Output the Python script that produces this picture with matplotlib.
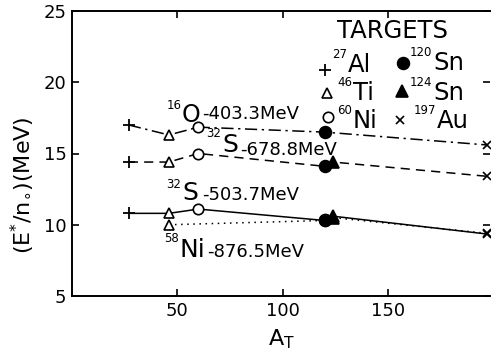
import matplotlib.pyplot as plt
from matplotlib.transforms import IdentityTransform

plt.rcParams['mathtext.default'] = 'regular'
plt.rcParams['font.family'] = 'DejaVu Sans'

# target mass numbers
A_al, A_ti, A_ni, A_sn120, A_sn124, A_au = 27, 46, 60, 120, 124, 197

# E*/n0 (MeV) for each projectile/energy, per target
o403 = {'al': 17.0, 'ti': 16.3, 'ni': 16.85, 'sn120': 16.5, 'au': 15.6}
s678 = {'al': 14.4, 'ti': 14.4, 'ni': 15.0, 'sn120': 14.1, 'sn124': 14.4, 'au': 13.4}
s503 = {'al': 10.8, 'ti': 10.8, 'ni': 11.1, 'sn120': 10.3, 'sn124': 10.6, 'au': 9.35}
ni876 = {'ti': 10.0, 'sn120': 10.3, 'sn124': 10.5, 'au': 9.4}

A = {'al': A_al, 'ti': A_ti, 'ni': A_ni, 'sn120': A_sn120, 'sn124': A_sn124, 'au': A_au}
markers = {
    'al': dict(marker='+', ms=8, mew=1.3, mfc='black'),
    'ti': dict(marker='^', ms=7, mew=1.2, mfc='white'),
    'ni': dict(marker='o', ms=7.5, mew=1.2, mfc='white'),
    'sn120': dict(marker='o', ms=8.5, mew=1.2, mfc='black'),
    'sn124': dict(marker='^', ms=8, mew=1.2, mfc='black'),
    'au': dict(marker='x', ms=6, mew=1.2, mfc='black'),
}

fig = plt.figure(figsize=(4.91, 3.58), dpi=100)
ax = fig.add_axes([72 / 491, 1 - 296 / 358, 418 / 491, 285 / 358])

series = [(o403, (0, (8, 3, 1.5, 3))), (s678, (0, (6, 4))), (s503, '-'), (ni876, (0, (1, 3)))]
for data, ls in series:
    keys = list(data.keys())
    ax.plot([A[k] for k in keys], [data[k] for k in keys], color='black', lw=1.1,
            linestyle=ls, zorder=2)
    for k in keys:
        ax.plot(A[k], data[k], color='black', linestyle='none', zorder=3,
                clip_on=False, **markers[k])

ax.set_xlim(0, 198.5)
ax.set_ylim(5, 25)
ax.set_xticks([50, 100, 150])
ax.set_yticks([5, 10, 15, 20, 25])
ax.tick_params(direction='in', length=5, width=1.2, top=True, right=True,
               labelsize=13, pad=4)
for s in ax.spines.values():
    s.set_linewidth(1.4)
ax.spines['right'].set_visible(False)

ax.set_xlabel(r'$A_T$', fontsize=16, labelpad=6)
ax.set_ylabel(r'$(E^{*}/n_{\circ})(MeV)$', fontsize=16)
ax.yaxis.set_label_coords(-0.085, 0.39)

renderer = fig.canvas.get_renderer()


def put(x, y, s, size, ha='left'):
    # x, y: pixel position from top-left, y is the baseline
    return fig.text(x, 358 - y, s, fontsize=size, transform=IdentityTransform(),
                    ha=ha, va='baseline')


def nuclide(x, y, mass, sym, size, mass_dy, rest=None, rest_x=None, rest_y=None):
    t = put(x, y, sym, size)
    bb = t.get_window_extent(renderer)
    put(bb.x0 - 0.5, y - mass_dy, mass, 8.5, ha='right')
    if rest:
        put(max(rest_x, bb.x1 + 1.5), rest_y, rest, 13)


def px(x, y):
    return ax.transData.inverted().transform((x, 358 - y))


# reaction labels
nuclide(182, 122, '16', 'O', 17, 13, '-403.3MeV', 200, 119)
nuclide(222, 152, '32', 'S', 18, 15, '-678.8MeV', 240, 155)
nuclide(182, 200, '32', 'S', 18, 12, '-503.7MeV', 202, 200)
nuclide(179, 257, '58', 'Ni', 18, 15, '-876.5MeV', 207, 257)

# targets legend
put(337, 38, 'TARGETS', 17.5)
legend_rows = [
    ('al', 325, 70, '27', 'Al', 348, 72),
    ('ti', 327, 93, '46', 'Ti', 353, 100),
    ('ni', 328, 117, '60', 'Ni', 353, 128),
    ('sn120', 403, 63, '120', 'Sn', 433, 70),
    ('sn124', 402, 91, '124', 'Sn', 433, 100),
    ('au', 400, 120, '197', 'Au', 437, 128),
]
for k, mx, my, mass, sym, sx, sy in legend_rows:
    ax.plot(*px(mx, my), color='black', linestyle='none', clip_on=False, **markers[k])
    nuclide(sx, sy, mass, sym, 17.5, 14)

fig.savefig('out.png', dpi=100)
